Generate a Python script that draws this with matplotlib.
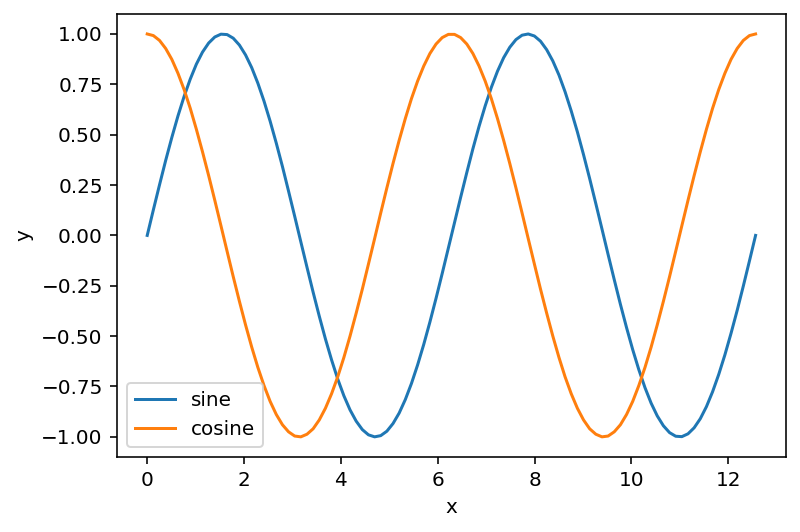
import matplotlib
matplotlib.use("Agg")
from matplotlib import pyplot as plt

# sample points (100 points from 0 to about 4*pi)
x_values = [0.000, 0.127, 0.254, 0.381, 0.508, 0.635, 0.762, 0.889, 1.015, 1.142,
            1.269, 1.396, 1.523, 1.650, 1.777, 1.904, 2.031, 2.158, 2.285, 2.412,
            2.539, 2.666, 2.793, 2.919, 3.046, 3.173, 3.300, 3.427, 3.554, 3.681,
            3.808, 3.935, 4.062, 4.189, 4.316, 4.443, 4.570, 4.697, 4.823, 4.950,
            5.077, 5.204, 5.331, 5.458, 5.585, 5.712, 5.839, 5.966, 6.093, 6.220,
            6.347, 6.474, 6.601, 6.727, 6.854, 6.981, 7.108, 7.235, 7.362, 7.489,
            7.616, 7.743, 7.870, 7.997, 8.124, 8.251, 8.378, 8.505, 8.631, 8.758,
            8.885, 9.012, 9.139, 9.266, 9.393, 9.520, 9.647, 9.774, 9.901, 10.028,
            10.155, 10.282, 10.409, 10.535, 10.662, 10.789, 10.916, 11.043, 11.170, 11.297,
            11.424, 11.551, 11.678, 11.805, 11.932, 12.059, 12.186, 12.313, 12.439, 12.566]

sine_values = [0.000, 0.127, 0.251, 0.372, 0.486, 0.593, 0.690, 0.776, 0.850, 0.910,
               0.955, 0.985, 0.999, 0.997, 0.979, 0.945, 0.896, 0.833, 0.756, 0.667,
               0.567, 0.458, 0.342, 0.220, 0.095, -0.032, -0.158, -0.282, -0.401, -0.514,
               -0.618, -0.713, -0.796, -0.866, -0.922, -0.964, -0.990, -1.000, -0.994, -0.972,
               -0.934, -0.882, -0.815, -0.735, -0.643, -0.541, -0.430, -0.312, -0.189, -0.063,
               0.063, 0.189, 0.312, 0.430, 0.541, 0.643, 0.735, 0.815, 0.882, 0.934,
               0.972, 0.994, 1.000, 0.990, 0.964, 0.922, 0.866, 0.796, 0.713, 0.618,
               0.514, 0.401, 0.282, 0.158, 0.032, -0.095, -0.220, -0.342, -0.458, -0.567,
               -0.667, -0.756, -0.833, -0.896, -0.945, -0.979, -0.997, -0.999, -0.985, -0.955,
               -0.910, -0.850, -0.776, -0.690, -0.593, -0.486, -0.372, -0.251, -0.127, 0.000]

cosine_values = [1.000, 0.992, 0.968, 0.928, 0.874, 0.805, 0.724, 0.631, 0.527, 0.415,
                 0.297, 0.174, 0.048, -0.079, -0.205, -0.327, -0.444, -0.554, -0.655, -0.745,
                 -0.824, -0.889, -0.940, -0.975, -0.996, -1.000, -0.987, -0.960, -0.916, -0.858,
                 -0.786, -0.702, -0.606, -0.500, -0.386, -0.267, -0.142, -0.016, 0.111, 0.236,
                 0.357, 0.472, 0.580, 0.679, 0.766, 0.841, 0.903, 0.950, 0.982, 0.998,
                 0.998, 0.982, 0.950, 0.903, 0.841, 0.766, 0.679, 0.580, 0.472, 0.357,
                 0.236, 0.111, -0.016, -0.142, -0.267, -0.386, -0.500, -0.606, -0.702, -0.786,
                 -0.858, -0.916, -0.960, -0.987, -1.000, -0.996, -0.975, -0.940, -0.889, -0.824,
                 -0.745, -0.655, -0.554, -0.444, -0.327, -0.205, -0.079, 0.048, 0.174, 0.297,
                 0.415, 0.527, 0.631, 0.724, 0.805, 0.874, 0.928, 0.968, 0.992, 1.000]

fig = plt.figure(figsize=(800 / 144, 532 / 144), dpi=144)
ax = fig.add_subplot(111)
fig.subplots_adjust(left=0.146, right=0.9825, top=0.974, bottom=0.141)

ax.plot(x_values, sine_values, label="sine")
ax.plot(x_values, cosine_values, label="cosine")

ax.set_xlabel("x")
ax.set_ylabel("y")
ax.legend(loc="lower left")

fig.savefig("out.png", dpi=144)
